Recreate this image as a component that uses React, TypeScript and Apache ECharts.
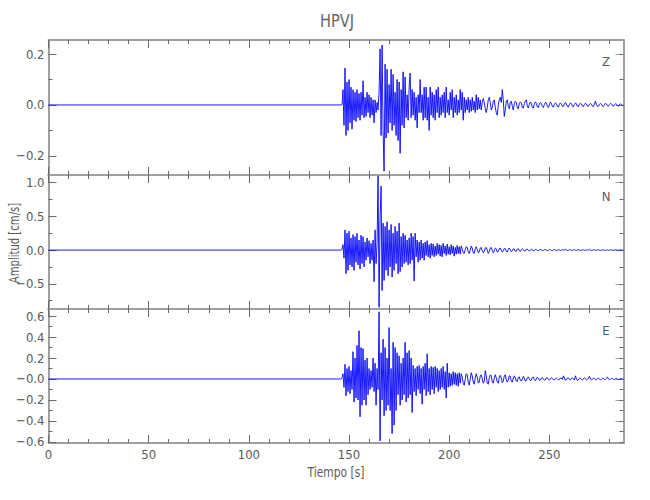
import React, { useEffect, useRef } from "react";
import * as echarts from "echarts";

// ---------------- data ----------------
const TITLE = "HPVJ";
const Y_NAME = "Amplitud [cm/s]";
const X_NAME = "Tiempo [s]";
const COMPONENTS = ["Z", "N", "E"];

const T_START = 146; // first sample of the listed traces (s)
const DT = 0.5; // sample spacing (s)
const T_MAX = 287;

const X_MAJOR = [0, 50, 100, 150, 200, 250];
const X_MINOR = [0, 10, 20, 30, 40, 50, 60, 70, 80, 90, 100, 110, 120, 130, 140, 150, 160, 170, 180, 190, 200, 210, 220, 230, 240, 250, 260, 270, 280];

const Z_RANGE = [-0.275, 0.255];
const Z_MAJOR = [-0.2, 0, 0.2];
const Z_MINOR = [-0.2, -0.1, 0, 0.1, 0.2];

const N_RANGE = [-0.874, 1.114];
const N_MAJOR = [-0.5, 0, 0.5, 1.0];
const N_MINOR = [-0.75, -0.5, -0.25, 0, 0.25, 0.5, 0.75, 1.0];

const E_RANGE = [-0.61, 0.667];
const E_MAJOR = [-0.6, -0.4, -0.2, 0, 0.2, 0.4, 0.6];
const E_MINOR = [-0.6, -0.5, -0.4, -0.3, -0.2, -0.1, 0, 0.1, 0.2, 0.3, 0.4, 0.5, 0.6];

const Z_VALUES = [
  0, 0.002, 0.06, -0.08, 0.145, -0.12, 0.09, -0.1, 0.1, -0.07, 0.07, -0.095, 0.06, -0.06, 0.05, -0.065, 0.06, -0.05, 0.045, -0.06,
  0.05, -0.04, 0.095, -0.05, 0.03, -0.045, 0.05, -0.03, 0.04, -0.05, 0.03, -0.04, 0.02, -0.07, 0.02, -0.03, 0.01, -0.02, 0.05, 0.22,
  -0.12, 0.235, -0.1, -0.26, 0.16, -0.13, 0.14, -0.11, 0.08, -0.07, 0.14, -0.1, 0.12, -0.08, 0.05, -0.12, 0.1, -0.14, 0.09, -0.19,
  0.06, -0.08, 0.13, -0.09, 0.11, -0.05, 0.04, -0.06, 0.07, 0.125, -0.05, 0.06, -0.04, 0.05, -0.06, 0.03, -0.09, 0.04, -0.03, 0.1,
  -0.03, 0.04, -0.06, 0.07, -0.05, 0.07, -0.06, 0.03, -0.1, 0.07, -0.04, 0.05, -0.05, 0.04, -0.06, 0.06, -0.03, 0.07, -0.05, 0.03,
  -0.04, 0.04, -0.03, 0.05, -0.05, 0.07, -0.03, 0.02, -0.04, 0.05, -0.02, 0.06, -0.05, 0.03, -0.03, 0.04, -0.04, 0.02, -0.03, 0.06,
  -0.02, 0.05, -0.06, 0.03, -0.03, 0.02, -0.02, 0.03, -0.03, 0.02, -0.025, 0.03, -0.02, 0.015, -0.03, 0.04, -0.02, 0.03, -0.015, 0.02,
  -0.02, 0.01, 0.025, 0.01, -0.015, -0.03, -0.01, 0.02, 0.03, 0.01, -0.02, -0.01, 0.015, 0.02, -0.01, -0.03, -0.04, 0.0, 0.02, 0.03,
  0.01, 0.06, 0.02, -0.045, -0.02, 0.015, 0.02, -0.005, -0.015, 0.01, 0.015, -0.005, -0.02, 0.005, 0.015, 0.01, -0.012, -0.015, 0.005, 0.012,
  0.008, -0.01, -0.012, 0.005, 0.015, 0.02, -0.005, -0.012, 0.002, 0.012, 0.006, -0.01, -0.012, 0.004, 0.012, 0.006, -0.008, -0.01, 0.004, 0.01,
  0.006, -0.006, -0.01, 0.002, 0.01, 0.008, -0.004, -0.01, 0.0, 0.012, 0.006, -0.006, -0.008, 0.002, 0.008, 0.005, -0.006, -0.008, 0.003, 0.008,
  0.004, -0.006, -0.006, 0.004, 0.01, 0.004, -0.006, -0.008, 0.002, 0.008, 0.005, -0.005, -0.007, 0.002, 0.008, 0.004, -0.005, -0.007, 0.003, 0.007,
  0.004, -0.005, -0.006, 0.002, 0.007, 0.004, -0.004, -0.006, 0.002, 0.006, 0.003, -0.005, -0.006, 0.004, 0.015, 0.002, -0.006, -0.005, 0.003, 0.006,
  0.003, -0.004, -0.006, 0.001, 0.006, 0.004, -0.003, -0.005, 0.002, 0.006, 0.004, -0.003, -0.005, 0.001, 0.005, 0.003, -0.004, -0.005, 0.002, 0.004,
  0.002, -0.002, 0.0,
];

const N_VALUES = [
  0, 0.01, 0.08, -0.12, 0.3, -0.35, 0.25, -0.3, 0.28, -0.22, 0.18, -0.25, 0.23, -0.3, 0.2, -0.18, 0.25, -0.22, 0.15, -0.28,
  0.22, -0.2, 0.2, -0.25, 0.12, -0.15, 0.18, -0.1, 0.14, -0.2, 0.1, -0.15, 0.15, -0.47, 0.3, -0.2, 0.1, 1.1, -0.85, 0.47,
  0.95, -0.6, 0.4, -0.45, 0.35, -0.3, 0.42, -0.38, 0.3, -0.25, 0.38, -0.4, 0.25, -0.3, 0.35, -0.2, 0.28, -0.35, 0.4, -0.32,
  0.2, -0.25, 0.25, -0.2, 0.22, -0.18, 0.15, -0.22, 0.18, -0.2, 0.25, -0.15, 0.2, -0.46, 0.25, -0.1, 0.15, -0.18, 0.12, -0.15,
  0.15, -0.12, 0.1, -0.15, 0.12, -0.08, 0.14, -0.1, 0.08, -0.12, 0.1, -0.08, 0.09, -0.1, 0.06, -0.08, 0.1, -0.06, 0.08, -0.09,
  0.07, -0.1, 0.1, -0.05, 0.06, -0.08, 0.09, -0.06, 0.05, -0.07, 0.08, -0.05, 0.06, -0.09, 0.04, -0.06, 0.07, -0.05, 0.05, -0.06,
  0.06, 0.02, -0.04, -0.05, 0.01, 0.05, 0.04, -0.03, -0.05, 0.0, 0.06, 0.03, -0.04, -0.05, 0.02, 0.05, 0.01, -0.04, -0.03, 0.03,
  0.04, -0.01, -0.04, -0.02, 0.03, 0.04, 0.0, -0.05, -0.02, 0.03, 0.04, -0.01, -0.04, -0.01, 0.03, 0.02, -0.03, -0.02, 0.02, 0.03,
  0.0, -0.03, -0.01, 0.025, 0.02, -0.02, -0.03, 0.01, 0.03, 0.0, -0.025, -0.01, 0.02, 0.015, -0.02, -0.015, 0.015, 0.02, -0.01, -0.02,
  0.005, 0.02, 0.008, -0.015, -0.01, 0.01, 0.015, -0.005, -0.015, 0.0, 0.015, 0.006, -0.012, -0.008, 0.01, 0.01, -0.006, -0.01, 0.004, 0.01,
  0.004, -0.008, -0.006, 0.006, 0.01, -0.002, -0.008, -0.002, 0.008, 0.005, -0.006, -0.007, 0.004, 0.008, -0.002, -0.007, 0.0, 0.007, 0.003, -0.006,
  -0.004, 0.005, 0.006, -0.003, 0.015, 0.002, -0.006, -0.002, 0.006, 0.004, -0.005, -0.004, 0.004, 0.006, -0.002, -0.005, 0.002, 0.005, 0.0, -0.005,
  -0.002, 0.005, 0.004, -0.004, -0.004, 0.003, 0.005, -0.002, 0.012, 0.002, -0.005, -0.003, 0.004, 0.004, -0.003, -0.004, 0.002, 0.004, 0.0, -0.004,
  -0.002, 0.004, 0.003, -0.003, -0.003, 0.002, 0.004, -0.002, -0.003, 0.002, 0.004, 0.0, -0.003, -0.002, 0.008, 0.002, -0.003, -0.002, 0.002, 0.003,
  0.0, -0.002, 0.0,
];

const E_VALUES = [
  0, 0.01, 0.05, -0.08, 0.14, -0.16, 0.1, -0.12, 0.12, -0.14, 0.08, -0.1, 0.26, -0.22, 0.2, -0.18, 0.32, -0.2, 0.46, -0.36,
  0.3, -0.25, 0.29, -0.2, 0.18, -0.25, 0.2, -0.15, 0.1, -0.1, 0.08, -0.08, 0.2, -0.12, 0.15, -0.25, 0.1, -0.1, 0.64, -0.59,
  0.25, -0.2, 0.38, -0.35, 0.3, -0.3, 0.2, -0.25, 0.49, -0.3, 0.1, -0.52, 0.35, -0.44, 0.3, -0.3, 0.25, -0.15, 0.22, -0.25,
  0.15, -0.2, 0.2, -0.15, 0.35, -0.22, 0.25, -0.18, 0.27, -0.15, 0.2, -0.32, 0.13, -0.12, 0.1, -0.16, 0.12, -0.1, 0.13, -0.14,
  0.1, -0.24, 0.12, -0.1, 0.15, -0.16, 0.24, -0.12, 0.1, -0.15, 0.12, -0.1, 0.11, -0.14, 0.12, -0.08, 0.1, -0.12, 0.08, -0.1,
  0.1, -0.08, 0.12, -0.1, 0.07, -0.18, 0.15, -0.08, 0.06, -0.07, 0.05, -0.06, 0.07, -0.05, 0.06, -0.06, 0.05, -0.07, 0.06, -0.04,
  0.05, 0.02, -0.04, -0.06, 0.0, 0.05, 0.04, -0.03, -0.06, 0.0, 0.06, 0.03, -0.03, -0.05, 0.01, 0.05, 0.02, -0.04, -0.03, 0.03,
  0.04, 0.0, -0.04, -0.02, 0.08, 0.03, -0.04, -0.05, 0.01, 0.04, 0.03, -0.03, -0.04, 0.01, 0.04, 0.01, -0.03, -0.04, 0.02, 0.035,
  0.01, -0.035, -0.02, 0.03, 0.04, -0.01, -0.03, -0.01, 0.03, 0.025, -0.02, -0.03, 0.01, 0.03, 0.01, -0.02, -0.025, 0.015, 0.02, -0.01,
  -0.02, 0.0, 0.025, 0.01, -0.02, -0.015, 0.01, 0.02, 0.0, -0.015, -0.01, 0.015, 0.018, -0.005, -0.018, 0.0, 0.018, 0.008, -0.012, -0.01,
  0.008, 0.015, -0.002, -0.012, -0.008, 0.01, 0.012, -0.004, -0.012, 0.0, 0.012, 0.006, -0.008, -0.01, 0.004, 0.01, 0.002, -0.008, -0.006, 0.008,
  0.01, -0.004, 0.03, 0.01, -0.012, -0.008, 0.008, 0.01, -0.004, -0.01, 0.004, 0.012, 0.0, -0.01, 0.03, 0.005, -0.015, -0.006, 0.008, 0.006,
  -0.006, -0.008, 0.004, 0.012, 0.0, -0.008, -0.004, 0.008, 0.025, 0.0, -0.01, -0.004, 0.008, 0.006, -0.006, -0.008, 0.004, 0.008, 0.0, -0.006,
  -0.004, 0.006, 0.007, -0.004, -0.006, 0.004, 0.02, 0.002, -0.008, -0.004, 0.006, 0.005, -0.004, -0.006, 0.003, 0.006, 0.0, -0.005, -0.002, 0.005,
  0.004, -0.003, 0.0,
];

// ---------------- styling ----------------
const FONT = '"DejaVu Sans Condensed", "Liberation Sans Narrow", Roboto, sans-serif';
const TEXT_COLOR = "#5a5a5a";
const AXIS_COLOR = "#a0a0a0";
const TICK_COLOR = "#6a6a6a";
const TRACE_COLOR = "#0000ff";

const GRID_LEFT = 48.5;
const GRID_RIGHT = 26.5;
const GRID_TOPS = [40, 175, 309];
const GRID_HEIGHTS = [135, 134, 134];

const PANELS = [
  { name: COMPONENTS[0], values: Z_VALUES, range: Z_RANGE, major: Z_MAJOR, minor: Z_MINOR, zero: "0.0" },
  { name: COMPONENTS[1], values: N_VALUES, range: N_RANGE, major: N_MAJOR, minor: N_MINOR, zero: "0.0" },
  { name: COMPONENTS[2], values: E_VALUES, range: E_RANGE, major: E_MAJOR, minor: E_MINOR, zero: "\u22120.0" },
];

function fmt(v: number, zero: string) {
  if (Math.abs(v) < 1e-9) return zero;
  const s = Math.abs(v).toFixed(1);
  return v < 0 ? "\u2212" + s : s;
}

function buildOption() {
  const grid: any[] = [];
  const xMain: any[] = [];
  const yMain: any[] = [];
  const xExtra: any[] = [];
  const yExtra: any[] = [];
  const series: any[] = [];
  const graphic: any[] = [];

  const tick = (len: number, vals: number[], color = TICK_COLOR) => ({
    show: true,
    inside: true,
    length: len,
    customValues: vals,
    lineStyle: { color, width: 1 },
  });

  PANELS.forEach((p, g) => {
    grid.push({
      left: GRID_LEFT,
      right: GRID_RIGHT,
      top: GRID_TOPS[g],
      height: GRID_HEIGHTS[g],
      containLabel: false,
      outerBoundsMode: "none",
    });

    const xBase = {
      gridIndex: g,
      type: "value",
      min: 0,
      max: T_MAX,
      splitLine: { show: false },
      axisLine: { show: true, onZero: false, lineStyle: { color: AXIS_COLOR, width: 2 } },
    };
    const isBottom = g === 2;
    xMain.push({
      ...xBase,
      position: "bottom",
      axisTick: tick(8, X_MAJOR),
      axisLabel: {
        show: isBottom,
        customValues: X_MAJOR,
        margin: 5,
        color: TEXT_COLOR,
        fontFamily: FONT,
        fontSize: 13,
      },
    });
    xExtra.push({
      ...xBase,
      position: "top",
      axisTick: tick(8, X_MAJOR),
      axisLabel: { show: false, customValues: X_MAJOR },
    });
    xExtra.push({
      ...xBase,
      position: "bottom",
      axisLine: { show: false, onZero: false },
      axisTick: tick(4, X_MINOR),
      axisLabel: { show: false, customValues: X_MINOR },
    });
    xExtra.push({
      ...xBase,
      position: "top",
      axisLine: { show: false, onZero: false },
      axisTick: tick(4, X_MINOR),
      axisLabel: { show: false, customValues: X_MINOR },
    });

    const yBase = {
      gridIndex: g,
      type: "value",
      min: p.range[0],
      max: p.range[1],
      splitLine: { show: false },
      axisLine: { show: true, onZero: false, lineStyle: { color: AXIS_COLOR, width: 2 } },
    };
    yMain.push({
      ...yBase,
      position: "left",
      axisTick: tick(8, p.major),
      axisLabel: {
        show: true,
        customValues: p.major,
        margin: 4,
        color: TEXT_COLOR,
        fontFamily: FONT,
        fontSize: 13,
        formatter: (v: number) => fmt(v, p.zero),
      },
    });
    yExtra.push({
      ...yBase,
      position: "right",
      axisTick: tick(8, p.major, AXIS_COLOR),
      axisLabel: { show: false, customValues: p.major },
    });
    yExtra.push({
      ...yBase,
      position: "left",
      axisLine: { show: false, onZero: false },
      axisTick: tick(4, p.minor),
      axisLabel: { show: false, customValues: p.minor },
    });
    yExtra.push({
      ...yBase,
      position: "right",
      axisLine: { show: false, onZero: false },
      axisTick: tick(4, p.minor),
      axisLabel: { show: false, customValues: p.minor },
    });

    const data: number[][] = [[0, 0]];
    p.values.forEach((v, i) => data.push([T_START + i * DT, v]));
    series.push({
      type: "line",
      name: p.name,
      xAxisIndex: g,
      yAxisIndex: g,
      data,
      showSymbol: false,
      symbol: "none",
      silent: true,
      clip: true,
      lineStyle: { color: TRACE_COLOR, width: 0.9 },
    });

    graphic.push({
      type: "text",
      x: 606,
      y: GRID_TOPS[g] + 21,
      style: {
        text: p.name,
        fill: TEXT_COLOR,
        font: `13px ${FONT}`,
        align: "center",
        verticalAlign: "middle",
      },
    });
  });

  graphic.push({
    type: "text",
    x: 337,
    y: 21,
    scaleX: 0.9,
    style: {
      text: TITLE,
      fill: "#666666",
      font: `18px ${FONT}`,
      align: "center",
      verticalAlign: "middle",
    },
  });
  graphic.push({
    type: "text",
    x: 336,
    y: 472,
    scaleX: 0.85,
    style: {
      text: X_NAME,
      fill: TEXT_COLOR,
      font: `14px ${FONT}`,
      align: "center",
      verticalAlign: "middle",
    },
  });
  graphic.push({
    type: "text",
    x: 14,
    y: 243,
    rotation: Math.PI / 2,
    scaleX: 0.8,
    style: {
      text: Y_NAME,
      fill: TEXT_COLOR,
      font: `14px ${FONT}`,
      align: "center",
      verticalAlign: "middle",
    },
  });

  return {
    animation: false,
    backgroundColor: "#ffffff",
    grid,
    xAxis: [...xMain, ...xExtra],
    yAxis: [...yMain, ...yExtra],
    series,
    graphic,
  };
}

export default function App() {
  const ref = useRef<HTMLDivElement>(null);
  useEffect(() => {
    if (!ref.current) return;
    const chart = echarts.init(ref.current, null, { renderer: "svg" });
    chart.setOption(buildOption() as any);
    return () => chart.dispose();
  }, []);
  return (
    <div
      ref={ref}
      style={{ position: "fixed", left: 0, top: 0, width: 650, height: 500, background: "#fff" }}
    />
  );
}
